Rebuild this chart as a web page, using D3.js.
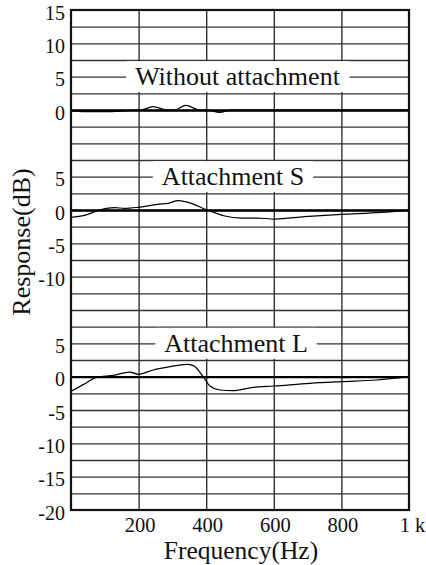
<!DOCTYPE html>
<html>
<head>
<meta charset="utf-8">
<script src="https://cdn.jsdelivr.net/npm/d3@7"></script>
<style>
  html, body { margin: 0; padding: 0; background: #fff; }
  svg { display: block; }
</style>
</head>
<body>
<svg id="chart" width="426" height="565"></svg>
<script>
// ---------------- DATA ----------------
const freqWithout = [0, 40, 100, 150, 190, 205, 243, 285, 305, 340, 380, 400, 440, 475, 600, 800, 1000];
const withoutAttachment = [-0.1, -0.25, -0.25, -0.15, 0, 0, 0.5, 0, 0, 0.7, 0, 0, -0.35, 0, 0, 0, 0];

const freqS = [0, 40, 85, 129, 159, 198, 257, 287, 317, 356, 395, 425, 455, 504, 550, 603, 691, 800, 918, 1000];
const attachmentS = [-1.1, -0.8, 0, 0.35, 0.25, 0.4, 0.85, 1.0, 1.4, 1.0, 0.15, -0.4, -0.9, -1.2, -1.2, -1.35, -1.0, -0.65, -0.35, 0];

const freqL = [0, 36, 76, 125, 174, 199, 243, 293, 342, 362, 391, 411, 440, 480, 539, 600, 707, 800, 904, 1000];
const attachmentL = [-2.2, -1.2, -0.1, 0.2, 0.7, 0.35, 1.0, 1.5, 1.85, 1.65, 0, -1.4, -2.0, -2.1, -1.6, -1.4, -1.0, -0.75, -0.5, 0];

const panelLabels = ["Without attachment", "Attachment S", "Attachment L"];
const panel1Ticks = [15, 10, 5, 0];
const panel2Ticks = [5, 0, -5, -10];
const panel3Ticks = [5, 0, -5, -10, -15, -20];
const xTicks = [200, 400, 600, 800, 1000];
const xTickLabels = ["200", "400", "600", "800", "1 k"];
const xGrid = [200, 400, 600, 800];
const xAxisTitle = "Frequency(Hz)";
const yAxisTitle = "Response(dB)";

// ---------------- LAYOUT ----------------
const pLeft = 71, pRight = 409, pTop = 10, pBottom = 510;
const font = "'Liberation Serif', 'Times New Roman', serif";
const svg = d3.select("#chart");
svg.append("rect").attr("width", 426).attr("height", 565).attr("fill", "#fff");

const x = d3.scaleLinear().domain([0, 1000]).range([pLeft, pRight]);
// each panel shares 2.5 dB per grid step, 30 steps overall
const y1 = d3.scaleLinear().domain([-60, 15]).range([pBottom, pTop]);
const y2 = d3.scaleLinear().domain([-45, 30]).range([pBottom, pTop]);
const y3 = d3.scaleLinear().domain([-20, 55]).range([pBottom, pTop]);

// horizontal grid
const hGrid = svg.append("g").attr("transform", `translate(${pLeft},0)`)
  .call(d3.axisLeft(y3).tickValues(d3.range(-17.5, 55, 2.5)).tickSize(-(pRight - pLeft)).tickFormat(""));
hGrid.select(".domain").remove();
hGrid.selectAll("line").attr("stroke", "#333").attr("stroke-width", 1.4);

// vertical grid
const vGrid = svg.append("g").attr("transform", `translate(0,${pBottom})`)
  .call(d3.axisBottom(x).tickValues(xGrid).tickSize(-(pBottom - pTop)).tickFormat(""));
vGrid.select(".domain").remove();
vGrid.selectAll("line").attr("stroke", "#333").attr("stroke-width", 1.4);

const panels = [
  { scale: y1, ticks: panel1Ticks, fx: freqWithout, vals: withoutAttachment, cx: 237.5 },
  { scale: y2, ticks: panel2Ticks, fx: freqS, vals: attachmentS, cx: 233 },
  { scale: y3, ticks: panel3Ticks, fx: freqL, vals: attachmentL, cx: 236 }
];

// panel labels with white boxes
panels.forEach((p, i) => {
  const ly = p.scale(5);
  const g = svg.append("g");
  const t = g.append("text")
    .attr("x", p.cx).attr("y", ly + 8.5)
    .attr("text-anchor", "middle")
    .attr("font-family", font).attr("font-size", 26).attr("fill", "#111")
    .text(panelLabels[i]);
  const bb = t.node().getBBox();
  g.insert("rect", "text")
    .attr("x", bb.x - 9).attr("width", bb.width + 18)
    .attr("y", p.scale(7.5) + 1.2).attr("height", p.scale(2.5) - p.scale(7.5) - 2.4)
    .attr("fill", "#fff");
});

// zero lines
panels.forEach(p => {
  const z = svg.append("g").attr("transform", `translate(${pLeft},0)`)
    .call(d3.axisLeft(p.scale).tickValues([0]).tickSize(-(pRight - pLeft)).tickFormat(""));
  z.select(".domain").remove();
  z.selectAll("line").attr("stroke", "#000").attr("stroke-width", 2.4);
});

// curves
panels.forEach(p => {
  const line = d3.line()
    .x((d, j) => x(p.fx[j]))
    .y(d => p.scale(d))
    .curve(d3.curveMonotoneX);
  svg.append("path")
    .attr("d", line(p.vals))
    .attr("fill", "none").attr("stroke", "#000").attr("stroke-width", 1.25);
});

// y tick labels
panels.forEach(p => {
  const a = svg.append("g").attr("transform", `translate(${pLeft},0)`)
    .call(d3.axisLeft(p.scale).tickValues(p.ticks).tickSize(0).tickPadding(6).tickFormat(d => String(d)));
  a.select(".domain").remove();
  a.selectAll("text")
    .attr("font-family", font).attr("font-size", 20).attr("fill", "#111")
    .attr("dy", "0.45em");
});

// x tick labels
const xa = svg.append("g").attr("transform", `translate(0,${pBottom})`)
  .call(d3.axisBottom(x).tickValues(xTicks).tickSize(0).tickPadding(7.2).tickFormat((d, i) => xTickLabels[i]));
xa.select(".domain").remove();
xa.selectAll("text")
  .attr("font-family", font).attr("font-size", 20.5).attr("fill", "#111")
  .attr("dx", (d, i) => i === xTicks.length - 1 ? 3 : 1);

// frame
svg.append("rect")
  .attr("x", pLeft).attr("y", pTop).attr("width", pRight - pLeft).attr("height", pBottom - pTop)
  .attr("fill", "none").attr("stroke", "#111").attr("stroke-width", 2.2);

// axis titles
svg.append("text")
  .attr("x", 241).attr("y", 559)
  .attr("text-anchor", "middle")
  .attr("font-family", font).attr("font-size", 25.5).attr("fill", "#111")
  .text(xAxisTitle);

svg.append("text")
  .attr("transform", "translate(30,242) rotate(-90)")
  .attr("text-anchor", "middle")
  .attr("font-family", font).attr("font-size", 26).attr("fill", "#111")
  .text(yAxisTitle);
</script>
</body>
</html>
